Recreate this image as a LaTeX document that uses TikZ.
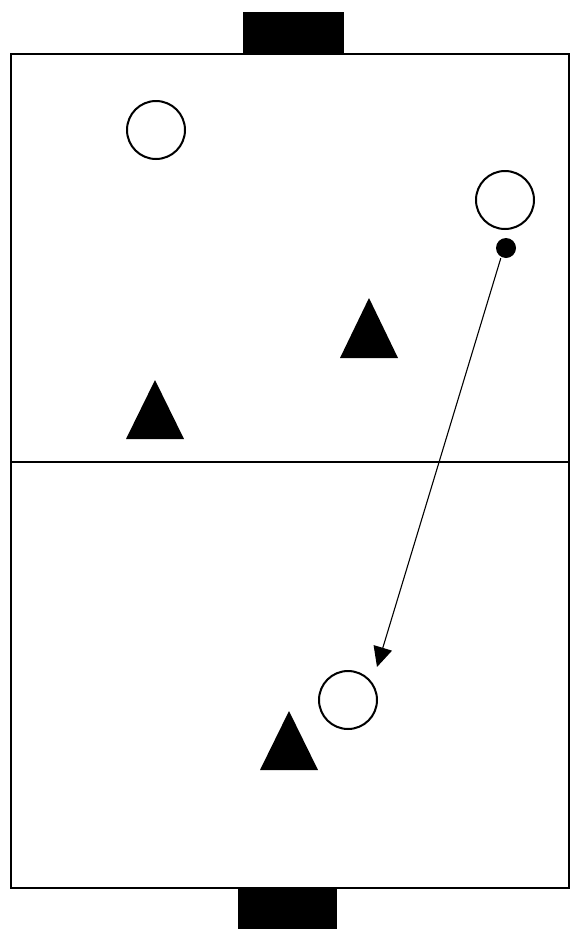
\documentclass[tikz,border=0pt]{standalone}
\usetikzlibrary{arrows.meta}
\begin{document}
\begin{tikzpicture}[x=1pt,y=-1pt,
  fieldline/.style={line width=1.8pt},
  player/.style={circle,draw,line width=2pt,minimum size=58pt,inner sep=0pt},
  cone/.style={fill=black},
  goalbox/.style={fill=black}]
\useasboundingbox (0,0) rectangle (572,929);
\fill[goalbox] (243,12) rectangle (344,54);
\fill[goalbox] (238,888) rectangle (337,929);
\draw[fieldline] (11,54) rectangle (569,888);
\draw[line width=1.2pt] (11,462) -- (569,462);
\node[player] (p1) at (156,130) {};
\node[player] (p2) at (505,200) {};
\node[player] (p3) at (348,700) {};
\node[circle,fill=black,minimum size=20pt,inner sep=0pt] (ball) at (506,248) {};
\fill[cone] (369,298) -- (398,358) -- (340,358) -- cycle;
\fill[cone] (155,380) -- (184,439) -- (126,439) -- cycle;
\fill[cone] (289,711) -- (318,770) -- (260,770) -- cycle;
\coordinate (tip) at (377,667);
\draw[line width=1.1pt,-{Triangle[length=20pt,width=19pt]}] (ball.south west) ++(2,3) -- (tip);
\end{tikzpicture}
\end{document}
